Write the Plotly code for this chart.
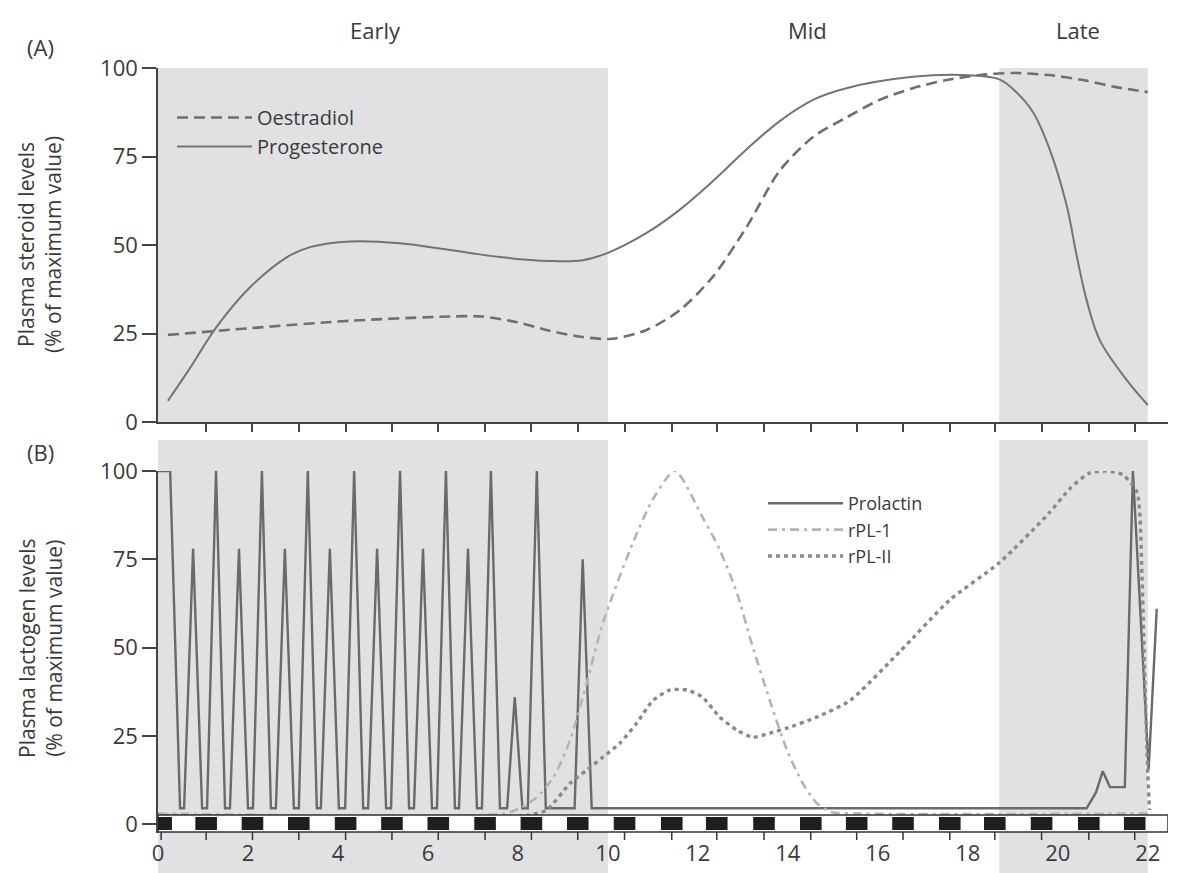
import plotly.graph_objects as go

# ---------------- data (days of pregnancy, % of maximum value) ----------------
day_ticks = [0, 2, 4, 6, 8, 10, 12, 14, 16, 18, 20, 22]
y_ticks = [0, 25, 50, 75, 100]

# dark (night) periods of the light cycle, centre of each block in days
night_centres = [0.07, 1.07, 2.1, 3.13, 4.17, 5.2, 6.23, 7.27, 8.3, 9.33, 10.37,
                 11.42, 12.42, 13.47, 14.51, 15.53, 16.56, 17.6, 18.6, 19.64,
                 20.69, 21.71]

phases = ["Early", "Mid", "Late"]
phase_label_x = [4.84, 14.44, 20.44]
early_span = [0, 10]
late_span = [18.7, 22]

# Panel A: steroids
prog_x = [0.22, 0.7, 1.31, 2.04, 2.87, 3.38, 4.27, 5.38, 6.49, 7.6, 8.7, 9.44,
          10.04, 10.86, 11.6, 12.33, 13.08, 13.82, 14.56, 15.3, 16.78, 17.9,
          18.7, 19.05, 19.45, 19.82, 20.2, 20.42, 20.64, 20.93, 21.53, 22.0]
prog_y = [6, 15, 27, 38, 46.6, 49.4, 51, 50.5, 48.6, 46.6, 45.5, 45.7,
          48, 53.4, 60, 68, 77, 85, 91, 94.3, 97.5, 98,
          96.8, 93.5, 87.5, 77, 61, 47, 34.5, 23.2, 11.9, 4.8]

oest_x = [0.22, 2.04, 4.27, 6.49, 7.2, 7.98, 8.7, 9.44, 10.1, 10.86, 11.6,
          12.33, 13.08, 13.82, 14.56, 15.3, 16.04, 16.78, 17.53, 18.27, 19.0,
          19.8, 20.56, 21.3, 22.0]
oest_y = [24.6, 26.5, 28.6, 29.8, 29.8, 28.2, 25.8, 24, 23.5, 26, 31.6,
          41, 55, 71, 80.5, 86, 91, 94.3, 96.6, 98, 98.6,
          98, 96.6, 94.6, 93.2]

# Panel B: lactogens
prl_x = [0, 0.27, 0.49,
         0.58, 0.78, 0.98, 1.09, 1.29, 1.49, 1.6, 1.8, 2.0, 2.11, 2.31, 2.51,
         2.62, 2.82, 3.02, 3.13, 3.33, 3.53, 3.62, 3.82, 4.02, 4.16, 4.36, 4.56,
         4.67, 4.87, 5.07, 5.18, 5.38, 5.58, 5.69, 5.89, 6.09, 6.2, 6.4, 6.6,
         6.69, 6.89, 7.09, 7.2, 7.4, 7.6, 7.76, 7.93, 8.1, 8.22, 8.42, 8.62,
         9.26, 9.44, 9.64,
         20.64, 20.85, 21.0, 21.16, 21.49, 21.67, 22.02, 22.2]
prl_y = [100, 100, 4.5,
         4.5, 78, 4.5, 4.5, 100, 4.5, 4.5, 78, 4.5, 4.5, 100, 4.5,
         4.5, 78, 4.5, 4.5, 100, 4.5, 4.5, 78, 4.5, 4.5, 100, 4.5,
         4.5, 78, 4.5, 4.5, 100, 4.5, 4.5, 78, 4.5, 4.5, 100, 4.5,
         4.5, 78, 4.5, 4.5, 100, 4.5, 4.5, 36, 4.5, 4.5, 100, 4.5,
         4.5, 75, 4.5,
         4.5, 9, 15, 10.5, 10.5, 100, 15.5, 61]

rpl1_x = [0, 7.7, 8.04, 8.42, 8.79, 9.16, 9.53, 9.89, 10.49, 11.0, 11.49,
          12.1, 12.49, 12.87, 13.2, 13.6, 13.98, 14.33, 14.64, 14.95, 15.6, 22.05]
rpl1_y = [3, 3, 4.5, 7.6, 13.3, 23.8, 40, 57, 77.6, 92, 100,
          87, 77.6, 65.4, 51, 35, 21, 11.6, 6, 3.5, 3, 3]

rpl2_x = [0, 8.2, 8.64, 9.16, 9.53, 9.89, 10.27, 10.64, 11.0, 11.38, 11.76,
          12.1, 12.49, 12.87, 13.22, 13.6, 13.98, 14.64, 15.38, 16.5, 17.6,
          18.7, 19.8, 20.27, 20.7, 21.09, 21.44, 21.76, 21.87, 21.93, 22.0, 22.04]
rpl2_y = [2.5, 2.5, 4, 11.6, 15.3, 19, 23, 28.6, 35, 38, 38,
          36, 30.3, 26.6, 24.6, 25.8, 27.2, 30.3, 35, 49, 63.5,
          74, 88, 95, 99.4, 100, 99, 94, 71, 43, 14.7, 4]

# ---------------- layout geometry ----------------
# the page body has an 8 px margin, so the figure is 8 px smaller than the window
OFF = 8
W, H = 1187 - OFF, 873 - OFF
ML, MR, MT, MB = 158 - OFF, 19, 68 - OFF, 40
PH = H - MT - MB
PW = W - ML - MR


def py(p):
    """screen pixel row -> paper y"""
    return (873 - MB - p) / PH


def pxp(p):
    """screen pixel column -> paper x"""
    return (p - 158) / PW


FONT = "Open Sans, Noto Sans, DejaVu Sans, sans-serif"
TXT = "#3a3a3a"
AX = "#444444"
SHADE = "#e1e1e4"
X_RANGE = [0, 22.45]

fig = go.Figure()

fig.add_trace(go.Scatter(x=oest_x, y=oest_y, name="Oestradiol", mode="lines",
                         line=dict(color="#6f6f6f", width=2.6, dash="11px,6px", shape="spline", smoothing=0.8),
                         xaxis="x", yaxis="y", legend="legend"))
fig.add_trace(go.Scatter(x=prog_x, y=prog_y, name="Progesterone", mode="lines",
                         line=dict(color="#747474", width=2, shape="spline", smoothing=1.0),
                         xaxis="x", yaxis="y", legend="legend"))

fig.add_trace(go.Scatter(x=prl_x, y=prl_y, name="Prolactin", mode="lines",
                         line=dict(color="#6a6a6a", width=2.4),
                         xaxis="x2", yaxis="y2", legend="legend2"))
fig.add_trace(go.Scatter(x=rpl1_x, y=rpl1_y, name="rPL-1", mode="lines",
                         line=dict(color="#b4b4b4", width=2.6, dash="9px,5px,3px,5px", shape="spline", smoothing=0.7),
                         xaxis="x2", yaxis="y2", legend="legend2"))
fig.add_trace(go.Scatter(x=rpl2_x, y=rpl2_y, name="rPL-II", mode="lines",
                         line=dict(color="#8a8a8a", width=3.4, dash="4px,4px", shape="spline", smoothing=0.6),
                         xaxis="x2", yaxis="y2", legend="legend2"))

shapes = []
# shaded phases
for span in (early_span, late_span):
    shapes.append(dict(type="rect", xref="x", yref="y", x0=span[0], x1=span[1], y0=0, y1=100,
                       fillcolor=SHADE, line=dict(width=0), layer="below"))
    shapes.append(dict(type="rect", xref="x2", yref="paper", x0=span[0], x1=span[1],
                       y0=py(873), y1=py(440), fillcolor=SHADE, line=dict(width=0), layer="below"))

# light/dark strip
shapes.append(dict(type="rect", xref="x2", yref="paper", x0=X_RANGE[0], x1=X_RANGE[1],
                   y0=py(832), y1=py(815), fillcolor="white", line=dict(color="#333333", width=1.5),
                   layer="above"))
for c in night_centres:
    shapes.append(dict(type="rect", xref="x2", yref="paper", x0=max(0, c - 0.24), x1=c + 0.24,
                       y0=py(830), y1=py(817), fillcolor="#1e1e1e", line=dict(width=0), layer="above"))
    shapes.append(dict(type="line", xref="x2", yref="paper", x0=c, x1=c,
                       y0=py(832), y1=py(840), line=dict(color="#333333", width=1.5), layer="above"))

annotations = []
for name, xv in zip(phases, phase_label_x):
    annotations.append(dict(text=name, x=xv, xref="x", y=py(30), yref="paper", showarrow=False,
                            font=dict(size=22, color=TXT, family=FONT), xanchor="center", yanchor="middle"))
annotations.append(dict(text="(A)", x=pxp(40), y=py(47), xref="paper", yref="paper", showarrow=False,
                        font=dict(size=22, color=TXT, family=FONT), xanchor="center", yanchor="middle"))
annotations.append(dict(text="(B)", x=pxp(40), y=py(452), xref="paper", yref="paper", showarrow=False,
                        font=dict(size=22, color=TXT, family=FONT), xanchor="center", yanchor="middle"))
# y-axis titles (two lines, rotated)
annotations.append(dict(text="Plasma steroid levels<br>(% of maximum value)", textangle=-90,
                        x=pxp(40), y=py(245), xref="paper", yref="paper", showarrow=False,
                        font=dict(size=21, color=TXT, family=FONT), xanchor="center", yanchor="middle"))
annotations.append(dict(text="Plasma lactogen levels<br>(% of maximum value)", textangle=-90,
                        x=pxp(40), y=py(648), xref="paper", yref="paper", showarrow=False,
                        font=dict(size=21, color=TXT, family=FONT), xanchor="center", yanchor="middle"))

yaxis_common = dict(tickvals=y_ticks, ticks="outside", ticklen=14, tickwidth=1.5,
                    tickcolor=AX, showline=True, linecolor=AX, linewidth=1.5, showgrid=False,
                    zeroline=False, automargin=False, tickfont=dict(size=22, color=TXT, family=FONT))

fig.update_layout(
    width=W, height=H,
    margin=dict(l=ML, r=MR, t=MT, b=MB),
    paper_bgcolor="white", plot_bgcolor="rgba(0,0,0,0)",
    font=dict(family=FONT, color=TXT),
    xaxis=dict(domain=[0, 1], anchor="y", range=X_RANGE, tickvals=night_centres[1:], ticks="outside",
               ticklen=8, tickwidth=1.5, tickcolor=AX, showticklabels=False, showline=True,
               linecolor=AX, linewidth=1.5, showgrid=False, zeroline=False, automargin=False),
    yaxis=dict(yaxis_common, domain=[py(422), 1], range=[0, 100], anchor="x"),
    xaxis2=dict(domain=[0, 1], anchor="y2", range=X_RANGE, matches="x", tickvals=day_ticks,
                ticktext=[str(d) for d in day_ticks], ticks="outside", ticklen=1,
                tickcolor="rgba(0,0,0,0)", showline=False, showgrid=False, zeroline=False,
                automargin=False, tickfont=dict(size=22, color=TXT, family=FONT)),
    yaxis2=dict(yaxis_common, domain=[0, py(471)], range=[-2.5, 100], anchor="x2"),
    shapes=shapes,
    annotations=annotations,
    legend=dict(x=pxp(172), y=py(98), xanchor="left", yanchor="top", bgcolor="rgba(0,0,0,0)",
                font=dict(size=20, color=TXT, family=FONT), itemwidth=75, tracegroupgap=0),
    legend2=dict(x=pxp(763), y=py(485), xanchor="left", yanchor="top", bgcolor="rgba(0,0,0,0)",
                 font=dict(size=18, color=TXT, family=FONT), itemwidth=75, tracegroupgap=0),
)

fig.write_html("out.html")
